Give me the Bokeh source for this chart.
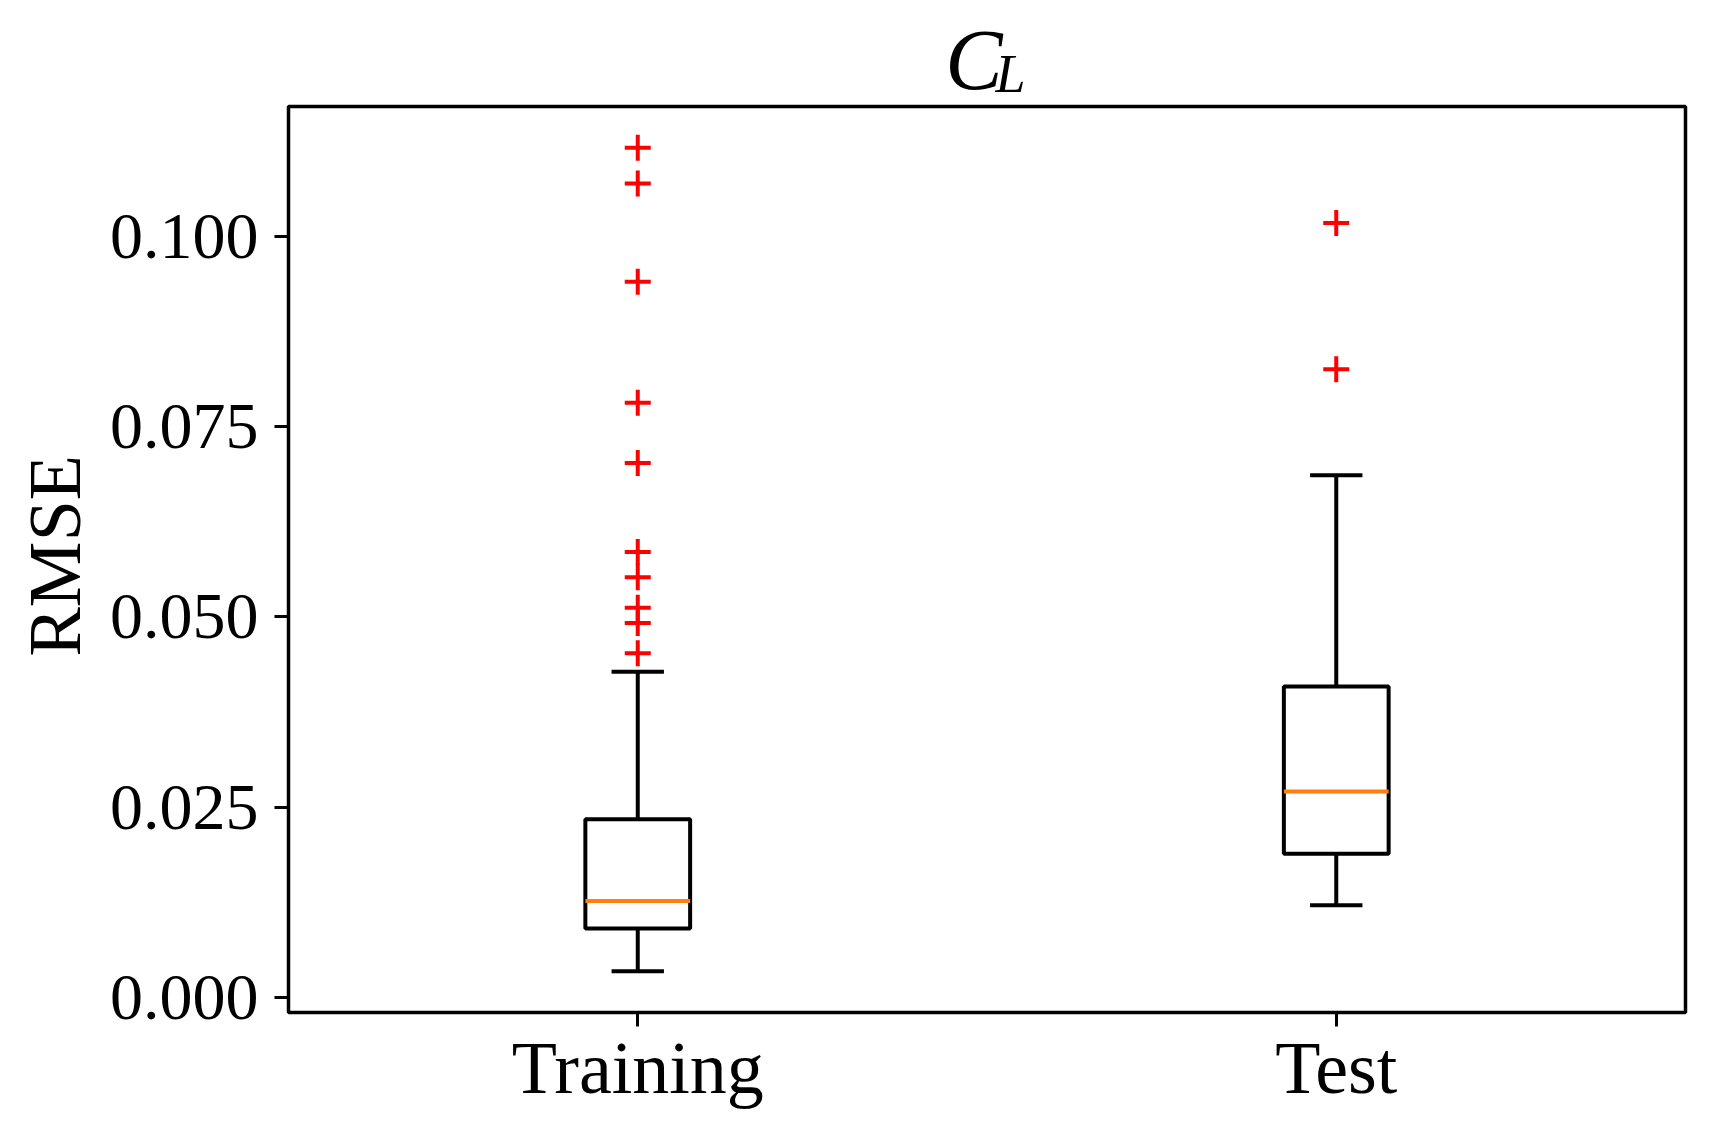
from bokeh.plotting import figure
from bokeh.models import (FixedTicker, NumeralTickFormatter, Range1d, Label, ColumnDataSource,
                          BoxAnnotation, Title)
from bokeh.embed import file_html
from bokeh.resources import INLINE

# ---- data ----
categories = ["Training", "Test"]
whisker_low = [0.00345, 0.01212]
q1 = [0.00906, 0.0189]
median = [0.01269, 0.02705]
q3 = [0.02342, 0.04085]
whisker_high = [0.0428, 0.0686]
train_outliers = [0.0452, 0.0492, 0.0512, 0.0552, 0.0585, 0.0702, 0.0781, 0.0940, 0.1069, 0.1116]
test_outliers = [0.0825, 0.1017]
y_ticks = [0.0, 0.025, 0.05, 0.075, 0.1]

positions = [i + 1 for i in range(len(categories))]
box_w = 0.15
cap_w = box_w / 2

all_vals = whisker_low + whisker_high + train_outliers + test_outliers
lo, hi = min(all_vals), max(all_vals)
pad = 0.05 * (hi - lo)
y0, y1 = lo - pad, hi + pad          # visible axes box (matplotlib-like margins)
x0, x1 = 0.5, 2.5

# ---- pixel geometry of the axes box ----
W, H = 1699, 1122
BOX_L, BOX_R, BOX_T, BOX_B = 288, 1685, 106, 1012
M = 4                                # small margin so the box outline is not clipped
xpx = (BOX_R - BOX_L) / (x1 - x0)
ypx = (BOX_B - BOX_T) / (y1 - y0)

FONT = "Liberation Serif"
LW = 4

p = figure(width=W, height=H, output_backend="svg", toolbar_location=None, title_location=None,
           x_range=Range1d(x0 - M / xpx, x1 + M / xpx),
           y_range=Range1d(y0 - M / ypx, y1 + BOX_T / ypx),
           min_border_left=BOX_L - M, min_border_right=W - BOX_R - M,
           min_border_top=0, min_border_bottom=H - BOX_B - M)
p.background_fill_color = "white"
p.border_fill_color = "white"
p.xgrid.visible = False
p.ygrid.visible = False
p.outline_line_color = None

# axes box outline
p.add_layout(BoxAnnotation(left=x0, right=x1, bottom=y0, top=y1, fill_color=None, fill_alpha=0,
                           line_color="black", line_alpha=1.0, line_width=3.5, level="overlay"))

box_src = ColumnDataSource(dict(x=positions, q1=q1, q3=q3, med=median, lo=whisker_low, hi=whisker_high,
                                left=[x - box_w / 2 for x in positions], right=[x + box_w / 2 for x in positions],
                                cl=[x - cap_w / 2 for x in positions], cr=[x + cap_w / 2 for x in positions]))
p.segment(x0="x", y0="q3", x1="x", y1="hi", source=box_src, line_color="black", line_width=LW)
p.segment(x0="x", y0="lo", x1="x", y1="q1", source=box_src, line_color="black", line_width=LW)
p.segment(x0="cl", y0="hi", x1="cr", y1="hi", source=box_src, line_color="black", line_width=LW)
p.segment(x0="cl", y0="lo", x1="cr", y1="lo", source=box_src, line_color="black", line_width=LW)
p.quad(left="left", right="right", bottom="q1", top="q3", source=box_src,
       fill_color=None, line_color="black", line_width=LW)
p.segment(x0="left", y0="med", x1="right", y1="med", source=box_src, line_color="#ff7f0e", line_width=LW)

ox = [positions[0]] * len(train_outliers) + [positions[1]] * len(test_outliers)
oy = train_outliers + test_outliers
p.scatter(ox, oy, marker="cross", size=26, line_color="red", line_width=LW)

p.xaxis.ticker = FixedTicker(ticks=positions)
p.xaxis.major_label_overrides = {pos: c for pos, c in zip(positions, categories)}
p.yaxis.ticker = FixedTicker(ticks=y_ticks)
p.yaxis.formatter = NumeralTickFormatter(format="0.000")
p.yaxis.bounds = (y0, y1)
p.xaxis.bounds = (x0, x1)
for ax in (p.xaxis, p.yaxis):
    ax.axis_line_color = None
    ax.minor_tick_line_color = None
    ax.major_tick_in = M
    ax.major_tick_out = 10
    ax.major_tick_line_width = 3
    ax.major_tick_line_color = "black"
    ax.major_label_text_font = FONT
    ax.major_label_text_color = "black"
p.xaxis.major_label_text_font_size = "74px"
p.yaxis.major_label_text_font_size = "66px"
p.xaxis.major_label_standoff = 0
p.yaxis.major_label_standoff = 16

# y-axis label, placed along the visible axes box (not the extended frame)
ylab_bottom = 656                    # canvas y of the label's start (reading upwards)
p.add_layout(Title(text="RMSE", align="left", offset=(BOX_B + M) - ylab_bottom, standoff=22,
                   text_font=FONT, text_font_style="normal", text_font_size="74px",
                   text_color="black"), "left")

# title C_L (inside the extended frame, above the axes box)
xc = (x0 + x1) / 2
p.add_layout(Label(x=xc + 15.5 / xpx, y=y1 + 47 / ypx, text="C", text_font=FONT,
                   text_font_style="italic", text_font_size="86px", text_align="right",
                   text_baseline="alphabetic", text_color="black"))
p.add_layout(Label(x=xc + 8.5 / xpx, y=y1 + 33 / ypx, text="L", text_font=FONT,
                   text_font_style="italic", text_font_size="54px", text_align="left",
                   text_baseline="alphabetic", text_color="black"))

open("out.html", "w").write(file_html(p, INLINE))
